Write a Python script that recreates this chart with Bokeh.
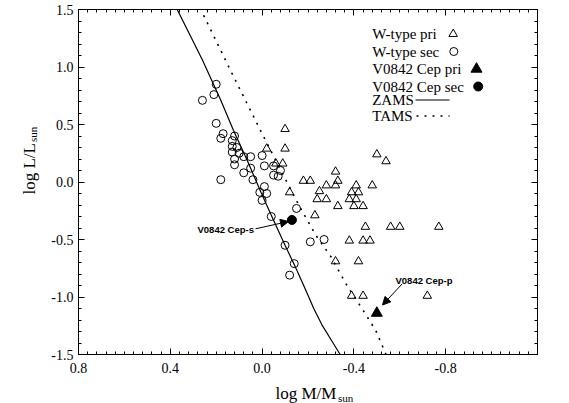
import math
from bokeh.plotting import figure
from bokeh.models import (Range1d, LinearAxis, SingleIntervalTicker, NumeralTickFormatter,
                          Label, Arrow, NormalHead)
from bokeh.core.properties import value
from bokeh.embed import file_html
from bokeh.resources import INLINE

# ---------------- data (log M/Msun, log L/Lsun) ----------------
wpri_logm = [-0.10, -0.02, -0.10, -0.06, -0.09, -0.12, -0.18, -0.21, -0.32, -0.33,
             -0.28, -0.32, -0.25, -0.24, -0.28, -0.33, -0.41, -0.48, -0.39, -0.42,
             -0.38, -0.41, -0.40, -0.44, -0.23, -0.50, -0.54, -0.45, -0.56, -0.60,
             -0.77, -0.38, -0.44, -0.47, -0.32, -0.42, -0.39, -0.44, -0.72]
wpri_logl = [0.46, 0.29, 0.29, 0.16, 0.16, -0.09, 0.01, 0.01, 0.09, 0.01,
             -0.03, -0.03, -0.08, -0.15, -0.15, -0.21, -0.03, -0.03, -0.09, -0.09,
             -0.15, -0.15, -0.21, -0.21, -0.29, 0.24, 0.18, -0.39, -0.39, -0.39,
             -0.39, -0.51, -0.51, -0.51, -0.69, -0.69, -0.99, -0.99, -0.99]

wsec_logm = [0.26, 0.20, 0.21, 0.20, 0.17, 0.18, 0.12, 0.13, 0.13, 0.11,
             0.13, 0.10, 0.12, 0.08, 0.05, 0.12, 0.05, 0.08, 0.18, 0.04,
             0.00, -0.01, -0.05, -0.05, -0.07, -0.08, -0.01, 0.01, -0.02, 0.00,
             -0.04, -0.15, -0.10, -0.21, -0.27, -0.14, -0.12]
wsec_logl = [0.71, 0.85, 0.76, 0.51, 0.42, 0.38, 0.40, 0.36, 0.31, 0.30,
             0.26, 0.25, 0.20, 0.22, 0.22, 0.15, 0.12, 0.08, 0.02, 0.02,
             0.23, 0.14, 0.14, 0.06, 0.05, 0.10, -0.04, -0.09, -0.10, -0.16,
             -0.30, -0.23, -0.55, -0.52, -0.50, -0.71, -0.81]

cep_pri_logm = [-0.50]
cep_pri_logl = [-1.14]
cep_sec_logm = [-0.13]
cep_sec_logl = [-0.33]

zams_logm = [0.37, 0.31, 0.26, 0.18, 0.125, 0.065, 0.005, -0.045, -0.10, -0.15,
             -0.19, -0.225, -0.26, -0.30, -0.34]
zams_logl = [1.50, 1.26, 1.06, 0.71, 0.45, 0.19, -0.09, -0.31, -0.55, -0.76,
             -0.94, -1.10, -1.24, -1.37, -1.50]

tams_logm = [0.255, 0.14, 0.005, -0.10, -0.165, -0.235, -0.30, -0.37, -0.435, -0.495, -0.54]
tams_logl = [1.45, 0.98, 0.44, 0.03, -0.22, -0.465, -0.65, -0.90, -1.10, -1.29, -1.50]

legend_labels = ["W-type pri", "W-type sec", "V0842 Cep pri", "V0842 Cep sec", "ZAMS", "TAMS"]
x_label_main, x_label_sub = "log M/M", "sun"
y_label_main, y_label_sub = "log L/L", "sun"
note_s = "V0842 Cep-s"
note_p = "V0842 Cep-p"

# ---------------- layout helpers (canvas pixels -> data) ----------------
FRAME_L, FRAME_T, FRAME_W, FRAME_H = 78, 9, 459, 345
XL, XR = 0.8, -1.2
YT, YB = 1.5, -1.5


def fx(px):
    return XL + (px - FRAME_L) / FRAME_W * (XR - XL)


def fy(py):
    return YT + (py - FRAME_T) / FRAME_H * (YB - YT)


SERIF = "Liberation Serif"
SANS = "Liberation Sans"
TICK = "black"

p = figure(frame_width=FRAME_W, frame_height=FRAME_H,
           x_range=Range1d(XL, XR), y_range=Range1d(YB, YT),
           output_backend="svg", toolbar_location=None,
           min_border_left=FRAME_L, min_border_right=31, min_border_top=FRAME_T,
           min_border_bottom=48)
p.background_fill_color = "white"
p.border_fill_color = "white"
p.outline_line_color = "black"
p.outline_line_width = 1
p.xgrid.visible = False
p.ygrid.visible = False


def style_axis(ax, show_labels):
    ax.axis_line_color = "black"
    ax.major_tick_line_color = TICK
    ax.minor_tick_line_color = TICK
    ax.major_tick_line_width = 1
    ax.minor_tick_line_width = 1
    ax.major_tick_in = 6
    ax.major_tick_out = 0
    ax.minor_tick_in = 3
    ax.minor_tick_out = 0
    if show_labels:
        ax.major_label_text_font = SERIF
        ax.major_label_text_font_size = "14px"
        ax.major_label_text_color = "black"
        ax.formatter = NumeralTickFormatter(format="0.0")
    else:
        ax.major_label_text_font_size = "0px"
        ax.major_label_standoff = 0
        ax.major_label_text_alpha = 0


p.xaxis.ticker = SingleIntervalTicker(interval=0.4, num_minor_ticks=10)
p.yaxis.ticker = SingleIntervalTicker(interval=0.5, num_minor_ticks=5)
style_axis(p.xaxis[0], True)
style_axis(p.yaxis[0], True)
p.xaxis.major_label_standoff = 8
p.yaxis.major_label_standoff = 5

top = LinearAxis(ticker=SingleIntervalTicker(interval=0.4, num_minor_ticks=10))
style_axis(top, False)
p.add_layout(top, "above")
right = LinearAxis(ticker=SingleIntervalTicker(interval=0.5, num_minor_ticks=5))
style_axis(right, False)
p.add_layout(right, "right")

# ---------------- curves ----------------
p.line(zams_logm, zams_logl, line_color="black", line_width=1.2)
p.line(tams_logm, tams_logl, line_color="black", line_width=1.6, line_dash="2 6")

# ---------------- points ----------------
p.scatter(wpri_logm, wpri_logl, marker="triangle", size=8.5, fill_color=None,
          line_color="black", line_width=1)
p.scatter(wsec_logm, wsec_logl, marker="circle", size=8, fill_color=None,
          line_color="black", line_width=1)
p.scatter(cep_pri_logm, cep_pri_logl, marker="triangle", size=11, fill_color="black",
          line_color="black")
p.scatter(cep_sec_logm, cep_sec_logl, marker="circle", size=9, fill_color="black",
          line_color="black")

# ---------------- manual legend (symbols on the right) ----------------
rows = [33.5, 51, 68.5, 86, 99.5, 115.5]
p.text(x=[fx(371.7)] * len(legend_labels), y=[fy(r) for r in rows], text=legend_labels,
       text_font=value(SERIF), text_font_size="15px", text_color="black",
       text_align="left", text_baseline="middle")
p.scatter([fx(452.7)], [fy(rows[0])], marker="triangle", size=8.5, fill_color=None,
          line_color="black")
p.scatter([fx(453.3)], [fy(rows[1])], marker="circle", size=8, fill_color=None,
          line_color="black")
p.scatter([fx(476)], [fy(rows[2])], marker="triangle", size=11, fill_color="black",
          line_color="black")
p.scatter([fx(477.7)], [fy(rows[3])], marker="circle", size=9, fill_color="black",
          line_color="black")
p.line([fx(415), fx(449)], [fy(rows[4])] * 2, line_color="black", line_width=1.2)
p.line([fx(416), fx(449)], [fy(rows[5])] * 2, line_color="black", line_width=1.6,
       line_dash="2 6")

# ---------------- annotations ----------------
p.add_layout(Label(x=fx(197), y=fy(229), text=note_s, text_font=SANS,
                   text_font_style="bold", text_font_size="9.5px", text_color="black",
                   text_align="left", text_baseline="middle"))
p.add_layout(Arrow(end=NormalHead(size=8, fill_color="black", line_color="black"),
                   x_start=fx(255), y_start=fy(228.3), x_end=fx(288), y_end=fy(221),
                   line_color="black", line_width=1))
p.add_layout(Label(x=fx(395), y=fy(280), text=note_p, text_font=SANS,
                   text_font_style="bold", text_font_size="9.5px", text_color="black",
                   text_align="left", text_baseline="middle"))
p.add_layout(Arrow(end=NormalHead(size=8, fill_color="black", line_color="black"),
                   x_start=fx(401.7), y_start=fy(283.3), x_end=fx(382), y_end=fy(304.5),
                   line_color="black", line_width=1))

# ---------------- axis titles (with subscripts), in the below side panel ----------------
p.add_layout(Label(x=fx(275), y=fy(393), text=x_label_main, text_font=SERIF,
                   text_font_size="17px", text_color="black", text_align="left",
                   text_baseline="alphabetic"), "below")
p.add_layout(Label(x=fx(337.5), y=fy(397.5), text=x_label_sub, text_font=SERIF,
                   text_font_size="11px", text_color="black", text_align="left",
                   text_baseline="alphabetic"), "below")
p.add_layout(Label(x=fx(28.5), y=fy(194), text=y_label_main, text_font=SERIF,
                   text_font_size="17px", text_color="black", text_align="left",
                   text_baseline="alphabetic", angle=math.pi / 2), "below")
p.add_layout(Label(x=fx(32), y=fy(141.5), text=y_label_sub, text_font=SERIF,
                   text_font_size="11px", text_color="black", text_align="left",
                   text_baseline="alphabetic", angle=math.pi / 2), "below")

open("out.html", "w").write(file_html(p, INLINE))
